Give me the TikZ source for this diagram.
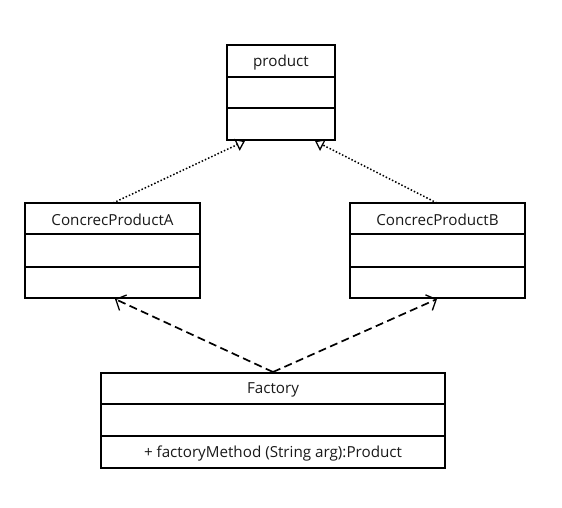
\documentclass[tikz,border=0pt]{standalone}
\usepackage{fontspec}
\setmainfont{Open Sans}
\usetikzlibrary{arrows.meta}
\begin{document}
\begin{tikzpicture}[x=1pt,y=-1pt,
  box/.style={draw=black,line width=1.8pt},
  sep/.style={draw=black,line width=1.8pt},
  lbl/.style={font=\fontsize{15.2}{17}\selectfont,text=black!90,inner sep=0pt},
  realize/.style={dotted,line width=1.5pt,-{Triangle[open,length=9pt,width=13pt,line width=1.3pt]}},
  depend/.style={dashed,dash pattern=on 8pt off 4.5pt,line width=1.7pt,-{Straight Barb[length=8pt,width=17pt,line width=1.3pt]}}]
\useasboundingbox (0,0) rectangle (562,507);
% product
\draw[box] (227,45) rectangle (335,140);
\draw[sep] (227,77) -- (335,77);
\draw[sep] (227,108) -- (335,108);
\node[lbl] (p) at (281,62.5) {product};
\coordinate (pL) at (245,141);
\coordinate (pR) at (315,141);
% A
\draw[box] (25,203) rectangle (200,298);
\draw[sep] (25,234) -- (200,234);
\draw[sep] (25,267) -- (200,267);
\node[lbl] (a) at (112.5,220) {ConcrecProductA};
\coordinate (aT) at (113,203);
\coordinate (aB) at (115,299);
% B
\draw[box] (350,203) rectangle (525,298);
\draw[sep] (350,234) -- (525,234);
\draw[sep] (350,267) -- (525,267);
\node[lbl] (b) at (437.5,220) {ConcrecProductB};
\coordinate (bT) at (437,203);
\coordinate (bB) at (437,299);
% Factory
\draw[box] (101,373) rectangle (445,468);
\draw[sep] (101,404) -- (445,404);
\draw[sep] (101,436) -- (445,436);
\node[lbl] (f) at (273,390) {Factory};
\node[lbl] (m) at (273,453.5) {+ factoryMethod (String arg):Product};
\coordinate (fT) at (273,372);
% connectors
\draw[realize] (aT) -- (pL);
\draw[realize] (bT) -- (pR);
\draw[depend] (fT) -- (aB);
\draw[depend] (fT) -- (bB);
\end{tikzpicture}
\end{document}
